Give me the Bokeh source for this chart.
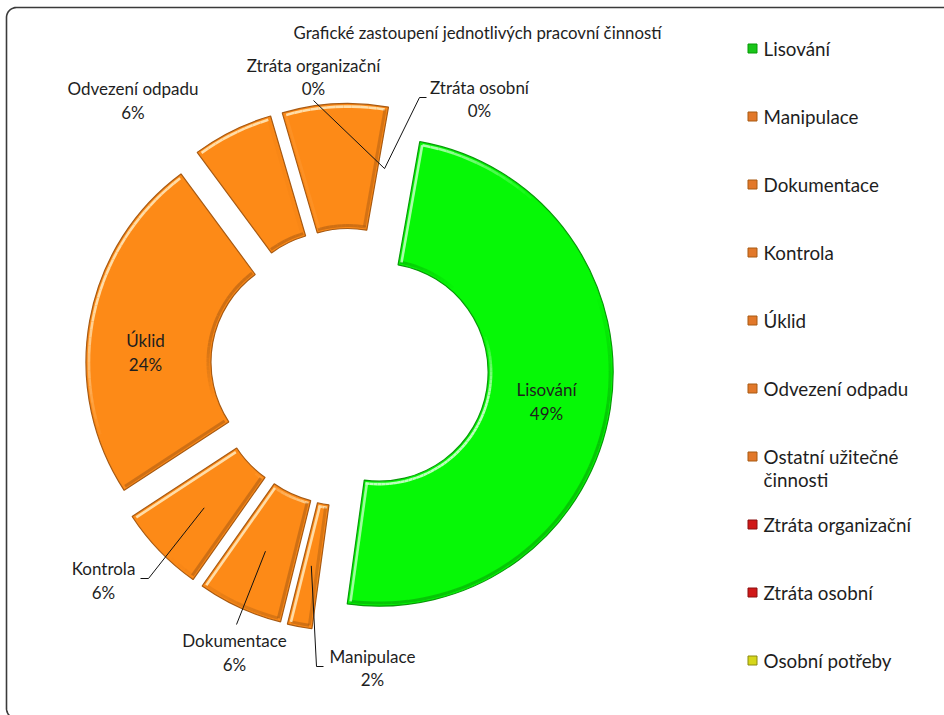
import numpy as np
from bokeh.plotting import figure
from bokeh.models import ColumnDataSource, Range1d
from bokeh.core.properties import value
from bokeh.embed import file_html
from bokeh.resources import INLINE

# ---------------- data ----------------
title_text = "Grafické zastoupení jednotlivých pracovní činností"
categories = ["Lisování", "Manipulace", "Dokumentace", "Kontrola", "Úklid",
              "Odvezení odpadu", "Ostatní užitečné činnosti",
              "Ztráta organizační", "Ztráta osobní", "Osobní potřeby"]
values = [49.4, 1.7, 5.9, 6.0, 24.1, 5.6, 7.3, 0.0, 0.0, 0.0]
legend_lines = [["Lisování"], ["Manipulace"], ["Dokumentace"], ["Kontrola"], ["Úklid"],
                ["Odvezení odpadu"], ["Ostatní užitečné", "činnosti"],
                ["Ztráta organizační"], ["Ztráta osobní"], ["Osobní potřeby"]]
shown_labels = [0, 1, 2, 3, 4, 5, 7, 8]

# ---------------- styles / layout ----------------
W, H = 944, 715
GREEN, ORANGE, RED, YELLOW = "#06F806", "#FD8A17", "#E01E1E", "#E2E21A"
fills = [GREEN] + [ORANGE] * 6 + [RED, RED, YELLOW]
edge = {GREEN: "#079A07", ORANGE: "#A85A12", RED: "#8A1010", YELLOW: "#8A8A10"}
light = {GREEN: "#C8FFC8", ORANGE: "#FFE2B0", RED: "#FFB0B0", YELLOW: "#FFFFC0"}
legend_marker = ["#19C519"] + ["#E2782A"] * 6 + ["#D01818", "#D01818", "#D6D61A"]
TXT = "#1E1E1E"
FONT = "Lato"

CX, CY = 349.0, H - 367.0
R_OUT, R_IN, EXPLODE, START = 234.0, 109.0, 30.0, 10.0
R_ANCHOR = (R_OUT + R_IN) / 2 + 0.5

# label block centers (screen px) and leader line start points
label_pos = {0: (546, 401), 1: (372, 667.5), 2: (234, 652), 3: (103, 580),
             4: (145, 352), 5: (132.5, 100), 7: (313, 76.5), 8: (479, 98.5)}
leader_start = {1: [(323, 666), (316, 666)], 2: [(236, 624)],
                3: [(140, 578), (148, 578)], 7: [(313, 100)],
                8: [(426, 97), (419, 97)]}

def sy(y):
    return H - y

p = figure(width=W, height=H, x_range=Range1d(0, W), y_range=Range1d(0, H),
           output_backend="svg", toolbar_location=None, min_border=0)
p.axis.visible = False
p.grid.visible = False
p.outline_line_color = None
p.background_fill_color = "white"
p.border_fill_color = "white"

# ---------------- border ----------------
bx0, by0, bx1, by1, rc = 6, sy(7), 990, sy(718), 10
pts = [(bx1, by0), (bx0 + rc, by0)]
a = np.linspace(np.pi / 2, np.pi, 12)
pts += list(zip(bx0 + rc + rc * np.cos(a), by0 - rc + rc * np.sin(a)))
a = np.linspace(np.pi, 1.5 * np.pi, 12)
pts += list(zip(bx0 + rc + rc * np.cos(a), by1 + rc + rc * np.sin(a)))
pts += [(bx1, by1)]
p.line([q[0] for q in pts], [q[1] for q in pts], line_color="#3A3A3A", line_width=1.6)

# ---------------- donut ----------------
total = float(sum(values))
angles = [v / total * 360.0 for v in values]
t_start, t_end = [], []
acc = START
for ang in angles:
    t_start.append(acc)
    acc += ang
    t_end.append(acc)
mids = [(s + e) / 2 for s, e in zip(t_start, t_end)]
cxs = [CX + EXPLODE * np.sin(np.radians(m)) for m in mids]
cys = [CY + EXPLODE * np.cos(np.radians(m)) for m in mids]

idx = [i for i, v in enumerate(values) if v > 0]
src = ColumnDataSource(dict(
    x=[cxs[i] for i in idx], y=[cys[i] for i in idx],
    start=[np.radians(90 - t_end[i]) for i in idx],
    end=[np.radians(90 - t_start[i]) for i in idx],
    fill=[fills[i] for i in idx], line=[edge[fills[i]] for i in idx],
    cat=[categories[i] for i in idx]))
p.annular_wedge(x="x", y="y", inner_radius=R_IN, outer_radius=R_OUT,
                start_angle="start", end_angle="end", direction="anticlock",
                fill_color="fill", line_color="line", line_width=1.2, source=src)

# bevel-like shading of edges
Lv = np.array([-0.55, 0.83]); Lv = Lv / np.linalg.norm(Lv)
sx, syy, sc, sa, sw = [], [], [], [], []

def add_seg(p0, p1, nrm, base):
    d = float(np.dot(nrm, Lv))
    if d > 0.25:
        sx.append([p0[0], p1[0]]); syy.append([p0[1], p1[1]])
        sc.append(light[base]); sa.append(min(1.0, (d - 0.25) / 0.5) * 0.95); sw.append(2.6)
    elif d < -0.25:
        sx.append([p0[0], p1[0]]); syy.append([p0[1], p1[1]])
        sc.append(edge[base]); sa.append(min(1.0, (-d - 0.25) / 0.5) * 0.55); sw.append(3.0)

for i in idx:
    cx, cy, t1, t2, base = cxs[i], cys[i], t_start[i], t_end[i], fills[i]
    ins = 3.0
    n = max(3, int((t2 - t1) / 2.0))
    th = np.radians(np.linspace(t1 + 0.8, t2 - 0.8, n))
    for k in range(len(th) - 1):
        tm = (th[k] + th[k + 1]) / 2
        nr = np.array([np.sin(tm), np.cos(tm)])
        ro = R_OUT - ins
        add_seg((cx + ro * np.sin(th[k]), cy + ro * np.cos(th[k])),
                (cx + ro * np.sin(th[k + 1]), cy + ro * np.cos(th[k + 1])), nr, base)
        ri = R_IN + ins
        add_seg((cx + ri * np.sin(th[k]), cy + ri * np.cos(th[k])),
                (cx + ri * np.sin(th[k + 1]), cy + ri * np.cos(th[k + 1])), -nr, base)
    for t, sgn in ((t1, -1), (t2, 1)):
        tr = np.radians(t)
        nr = np.array([np.sin(tr + sgn * np.pi / 2), np.cos(tr + sgn * np.pi / 2)])
        off = -nr * ins
        r0, r1 = R_IN + ins, R_OUT - ins
        add_seg((cx + r0 * np.sin(tr) + off[0], cy + r0 * np.cos(tr) + off[1]),
                (cx + r1 * np.sin(tr) + off[0], cy + r1 * np.cos(tr) + off[1]), nr, base)

p.multi_line(xs=sx, ys=syy, line_color=sc, line_alpha=sa, line_width=sw)

# ---------------- leader lines ----------------
for i, start_pts in leader_start.items():
    m = np.radians(mids[i])
    ax, ay = cxs[i] + R_ANCHOR * np.sin(m), cys[i] + R_ANCHOR * np.cos(m)
    xs = [q[0] for q in start_pts] + [ax]
    ys = [sy(q[1]) for q in start_pts] + [ay]
    p.line(xs, ys, line_color="#111111", line_width=1.0)

# ---------------- data labels ----------------
lx, ly, lt = [], [], []
for i in shown_labels:
    x0, y0 = label_pos[i]
    pct = f"{round(values[i] / total * 100):.0f}%"
    lx += [x0, x0]; ly += [sy(y0 - 11.7), sy(y0 + 11.7)]
    lt += [categories[i], pct]
p.text(x=lx, y=ly, text=lt, text_font=value(FONT), text_font_size="17px",
       text_color=TXT, text_align="center", text_baseline="middle")

# ---------------- title ----------------
p.text(x=[477], y=[sy(32)], text=[title_text], text_font=value(FONT),
       text_font_size="16.8px", text_color=TXT, text_align="center",
       text_baseline="middle")

# ---------------- legend ----------------
gx, gy, gt = [], [], []
mx, my = [], []
for i, lines in enumerate(legend_lines):
    yc = 48 + 68 * i
    mx.append(752); my.append(sy(yc))
    for j, s in enumerate(lines):
        gx.append(763); gy.append(sy(yc + 23 * j)); gt.append(s)
p.rect(x=mx, y=my, width=9, height=9, fill_color=legend_marker,
       line_color=[edge.get(f, "#555555") for f in fills], line_width=1)
p.text(x=gx, y=gy, text=gt, text_font=value(FONT), text_font_size="18.8px",
       text_color=TXT, text_align="left", text_baseline="middle")

open("out.html", "w").write(file_html(p, INLINE))
